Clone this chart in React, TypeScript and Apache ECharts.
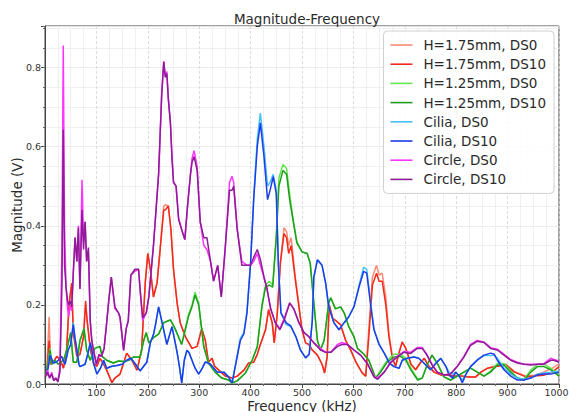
import React, { useEffect, useRef } from 'react';
import * as echarts from 'echarts';

type Pt = [number, number];

const chartTitle = 'Magnitude-Frequency';
const xName = 'Frequency (kHz)';
const yName = 'Magnitude (V)';
const seriesNames = [
  'H=1.75mm, DS0', 'H=1.75mm, DS10',
  'H=1.25mm, DS0', 'H=1.25mm, DS10',
  'Cilia, DS0', 'Cilia, DS10',
  'Circle, DS0', 'Circle, DS10',
];
const seriesColors = [
  '#fa8a74', '#f02a1c',
  '#62e650', '#1f9e1f',
  '#45c2f5', '#1f3de6',
  '#ff33ff', '#8e1c96',
];

const h175Ds10: Pt[] = [[3,0.02],[8,0.11],[11,0.05],[16,0.055],[23,0.07],[30,0.06],[36,0.04],[42,0.086],[47,0.205],[52,0.255],[55,0.13],[62,0.07],[68,0.075],[75,0.12],[79,0.21],[82,0.16],[88,0.09],[94,0.053],[101,0.045],[107,0.065],[114,0.05],[120,0.035],[130,0.003],[136,0.015],[146,0.025],[159,0.078],[169,0.06],[179,0.035],[188,0.086],[195,0.255],[200,0.33],[205,0.29],[211,0.22],[218,0.255],[224,0.34],[231,0.44],[234,0.44],[240,0.45],[245,0.39],[250,0.29],[257,0.205],[263,0.155],[273,0.12],[280,0.104],[286,0.09],[296,0.095],[305,0.14],[312,0.11],[318,0.055],[325,0.065],[330,0.045],[338,0.035],[351,0.02],[364,0.015],[374,0.02],[387,0.035],[396,0.053],[406,0.055],[413,0.075],[419,0.1],[429,0.137],[435,0.187],[442,0.155],[446,0.104],[452,0.18],[458,0.306],[465,0.38],[470,0.37],[474,0.33],[479,0.35],[487,0.263],[494,0.195],[500,0.137],[507,0.104],[513,0.1],[520,0.086],[530,0.073],[539,0.05],[544,0.028],[549,0.07],[553,0.2],[560,0.165],[566,0.16],[575,0.15],[585,0.11],[595,0.085],[605,0.055],[617,0.028],[624,0.02],[630,0.12],[637,0.25],[645,0.28],[650,0.26],[656,0.26],[663,0.2],[669,0.12],[676,0.065],[682,0.045],[689,0.08],[695,0.106],[702,0.09],[712,0.05],[721,0.036],[731,0.055],[738,0.065],[747,0.044],[757,0.03],[770,0.023],[783,0.022],[796,0.02],[810,0.02],[822,0.018],[838,0.018],[848,0.03],[861,0.04],[877,0.044],[897,0.048],[913,0.03],[936,0.018],[952,0.02],[970,0.022],[987,0.03],[1000,0.044]];
const h175Ds0: Pt[] = [[3,0.02],[8,0.17],[11,0.05],[16,0.055],[23,0.07],[30,0.06],[36,0.04],[42,0.086],[47,0.2],[52,0.25],[55,0.13],[62,0.07],[68,0.075],[75,0.12],[79,0.2],[82,0.16],[88,0.09],[94,0.053],[101,0.045],[107,0.065],[114,0.05],[120,0.035],[130,0.005],[136,0.015],[146,0.025],[159,0.078],[169,0.06],[179,0.035],[188,0.086],[195,0.255],[200,0.33],[205,0.29],[211,0.22],[218,0.255],[224,0.34],[231,0.45],[234,0.453],[240,0.45],[245,0.39],[250,0.29],[257,0.205],[263,0.155],[273,0.12],[280,0.104],[286,0.09],[296,0.095],[305,0.14],[312,0.11],[318,0.055],[325,0.065],[330,0.045],[338,0.035],[351,0.02],[364,0.015],[374,0.02],[387,0.035],[396,0.053],[406,0.055],[413,0.075],[419,0.1],[429,0.137],[435,0.19],[442,0.155],[446,0.104],[452,0.18],[458,0.31],[465,0.395],[470,0.385],[474,0.35],[479,0.37],[487,0.27],[494,0.2],[500,0.137],[507,0.104],[513,0.1],[520,0.086],[530,0.073],[539,0.05],[544,0.028],[549,0.07],[553,0.2],[560,0.165],[566,0.16],[575,0.15],[585,0.11],[595,0.085],[605,0.055],[617,0.028],[624,0.02],[630,0.14],[637,0.27],[645,0.3],[650,0.275],[656,0.28],[663,0.22],[669,0.13],[676,0.065],[682,0.045],[689,0.08],[695,0.106],[702,0.09],[712,0.05],[721,0.036],[731,0.055],[738,0.065],[747,0.044],[757,0.03],[770,0.023],[783,0.022],[796,0.02],[810,0.02],[822,0.018],[838,0.018],[848,0.03],[861,0.04],[877,0.046],[897,0.05],[913,0.032],[936,0.02],[952,0.022],[970,0.03],[987,0.04],[1000,0.05]];

const h125Ds10: Pt[] = [[3,0.03],[10,0.086],[13,0.05],[19,0.06],[26,0.05],[36,0.06],[42,0.085],[50,0.13],[55,0.055],[62,0.055],[68,0.11],[76,0.14],[81,0.086],[88,0.06],[97,0.09],[107,0.095],[111,0.07],[120,0.06],[133,0.053],[143,0.058],[153,0.057],[163,0.06],[172,0.068],[185,0.068],[192,0.11],[197,0.13],[202,0.104],[211,0.117],[221,0.126],[231,0.155],[240,0.16],[244,0.162],[253,0.14],[266,0.1],[279,0.17],[286,0.195],[292,0.225],[299,0.2],[309,0.094],[318,0.053],[331,0.03],[344,0.015],[357,0.01],[364,0.003],[374,0.008],[390,0.028],[403,0.06],[413,0.094],[422,0.195],[429,0.245],[436,0.25],[443,0.245],[450,0.37],[455,0.5],[463,0.54],[470,0.53],[476,0.466],[483,0.41],[490,0.357],[500,0.334],[510,0.33],[516,0.305],[523,0.205],[530,0.11],[536,0.086],[543,0.11],[552,0.205],[556,0.218],[565,0.19],[575,0.195],[582,0.18],[591,0.145],[601,0.12],[608,0.09],[620,0.076],[630,0.06],[636,0.04],[643,0.015],[653,0.03],[666,0.056],[679,0.068],[692,0.07],[702,0.06],[712,0.035],[725,0.01],[734,0.015],[744,0.05],[753,0.073],[763,0.053],[776,0.018],[789,0.01],[802,0.02],[815,0.03],[828,0.04],[841,0.03],[854,0.02],[867,0.03],[880,0.048],[893,0.048],[906,0.03],[919,0.015],[932,0.01],[945,0.03],[958,0.044],[971,0.044],[984,0.036],[1000,0.02]];
const h125Ds0: Pt[] = [[3,0.03],[10,0.09],[13,0.05],[19,0.06],[26,0.05],[36,0.06],[42,0.085],[50,0.13],[55,0.055],[62,0.055],[68,0.11],[76,0.14],[81,0.086],[88,0.06],[97,0.09],[107,0.095],[111,0.07],[120,0.06],[133,0.053],[143,0.058],[153,0.057],[163,0.06],[172,0.068],[185,0.068],[192,0.11],[197,0.13],[202,0.104],[211,0.117],[221,0.126],[231,0.155],[240,0.16],[244,0.162],[253,0.14],[266,0.1],[279,0.175],[286,0.2],[292,0.232],[299,0.205],[309,0.094],[318,0.053],[331,0.03],[344,0.015],[357,0.01],[364,0.003],[374,0.008],[390,0.028],[403,0.06],[413,0.094],[422,0.2],[429,0.25],[436,0.26],[443,0.25],[450,0.38],[455,0.52],[463,0.555],[470,0.545],[476,0.48],[483,0.415],[490,0.36],[500,0.334],[510,0.33],[516,0.305],[523,0.205],[530,0.11],[536,0.086],[543,0.11],[552,0.205],[556,0.218],[565,0.19],[575,0.195],[582,0.18],[591,0.145],[601,0.12],[608,0.09],[620,0.076],[630,0.06],[636,0.04],[643,0.015],[653,0.035],[666,0.06],[679,0.075],[692,0.076],[702,0.065],[712,0.04],[725,0.012],[734,0.015],[744,0.05],[753,0.073],[763,0.053],[776,0.018],[789,0.01],[802,0.02],[815,0.03],[828,0.04],[841,0.03],[854,0.02],[867,0.033],[880,0.052],[893,0.052],[906,0.033],[919,0.015],[932,0.012],[945,0.035],[958,0.05],[971,0.05],[984,0.04],[1000,0.022]];

const ciliaDs10: Pt[] = [[2,0.02],[6,0.04],[10,0.073],[16,0.053],[21,0.055],[26,0.06],[32,0.07],[39,0.05],[45,0.086],[50,0.1],[55,0.15],[58,0.12],[62,0.086],[66,0.05],[68,0.044],[78,0.05],[84,0.08],[88,0.104],[91,0.086],[95,0.05],[101,0.025],[108,0.04],[114,0.06],[120,0.04],[130,0.045],[140,0.047],[150,0.05],[159,0.06],[167,0.065],[176,0.05],[185,0.033],[192,0.045],[198,0.055],[205,0.104],[211,0.125],[215,0.15],[221,0.195],[227,0.16],[237,0.1],[247,0.145],[251,0.12],[257,0.08],[262,0.04],[266,0.003],[271,0.06],[276,0.085],[280,0.08],[286,0.06],[292,0.04],[299,0.025],[306,0.04],[312,0.056],[322,0.05],[335,0.03],[348,0.03],[357,0.018],[364,0.003],[370,0.043],[380,0.11],[387,0.127],[393,0.18],[400,0.306],[406,0.466],[413,0.6],[419,0.66],[426,0.575],[433,0.466],[438,0.49],[444,0.524],[450,0.48],[454,0.3],[459,0.18],[469,0.155],[478,0.147],[488,0.12],[497,0.086],[507,0.066],[514,0.075],[520,0.16],[523,0.27],[530,0.314],[539,0.3],[546,0.255],[552,0.195],[562,0.155],[572,0.137],[582,0.155],[591,0.17],[601,0.195],[611,0.245],[620,0.285],[626,0.28],[634,0.195],[640,0.137],[650,0.1],[660,0.078],[670,0.053],[679,0.044],[689,0.04],[695,0.06],[705,0.065],[718,0.068],[727,0.065],[737,0.053],[750,0.036],[763,0.056],[770,0.065],[780,0.044],[786,0.023],[793,0.015],[799,0.03],[806,0.02],[812,0.003],[819,0.025],[828,0.044],[841,0.06],[854,0.073],[867,0.078],[874,0.075],[880,0.06],[893,0.036],[906,0.02],[919,0.01],[932,0.01],[945,0.015],[958,0.023],[971,0.025],[984,0.025],[1000,0.03]];
const ciliaDs0: Pt[] = [[2,0.02],[6,0.04],[10,0.075],[16,0.053],[21,0.055],[26,0.06],[32,0.07],[39,0.05],[45,0.086],[50,0.1],[55,0.155],[58,0.12],[62,0.086],[66,0.05],[68,0.044],[78,0.05],[84,0.08],[88,0.104],[91,0.086],[95,0.05],[101,0.025],[108,0.04],[114,0.06],[120,0.04],[130,0.045],[140,0.047],[150,0.05],[159,0.06],[167,0.065],[176,0.05],[185,0.033],[192,0.045],[198,0.055],[205,0.104],[211,0.125],[215,0.15],[221,0.195],[227,0.16],[237,0.1],[247,0.145],[251,0.12],[257,0.08],[262,0.04],[266,0.003],[271,0.06],[276,0.085],[280,0.08],[286,0.06],[292,0.04],[299,0.025],[306,0.04],[312,0.056],[322,0.05],[335,0.03],[348,0.03],[357,0.018],[364,0.003],[370,0.045],[380,0.115],[387,0.13],[393,0.185],[400,0.31],[406,0.47],[413,0.62],[419,0.685],[426,0.6],[433,0.5],[438,0.51],[444,0.53],[450,0.49],[454,0.31],[459,0.18],[469,0.15],[478,0.145],[488,0.12],[497,0.086],[507,0.066],[514,0.075],[520,0.16],[523,0.27],[530,0.314],[539,0.3],[546,0.255],[552,0.195],[562,0.155],[572,0.137],[582,0.155],[591,0.17],[601,0.195],[611,0.25],[620,0.295],[626,0.29],[634,0.2],[640,0.14],[650,0.1],[660,0.078],[670,0.053],[679,0.044],[689,0.04],[695,0.06],[705,0.065],[718,0.068],[727,0.065],[737,0.053],[750,0.036],[763,0.056],[770,0.065],[780,0.045],[786,0.03],[793,0.025],[799,0.03],[806,0.02],[812,0.01],[819,0.025],[828,0.044],[841,0.062],[854,0.072],[867,0.072],[874,0.073],[880,0.065],[893,0.04],[906,0.025],[919,0.015],[932,0.012],[945,0.015],[958,0.025],[971,0.028],[984,0.03],[1000,0.033]];

const circleDs10: Pt[] = [[2,0.02],[5,0.03],[9,0.015],[13,0.025],[17,0.008],[21,0.015],[25,0.005],[29,0.03],[33,0.25],[35.5,0.643],[38,0.3],[41,0.245],[44,0.21],[46,0.2],[49,0.21],[52,0.195],[55,0.28],[58.5,0.37],[62,0.31],[65,0.395],[68,0.24],[72,0.44],[75,0.34],[78,0.41],[81,0.31],[84.5,0.345],[88,0.16],[91,0.11],[94,0.086],[100,0.05],[105,0.075],[110,0.07],[115,0.09],[120,0.155],[124,0.21],[129,0.27],[136,0.195],[143,0.18],[146,0.17],[153,0.085],[158,0.14],[162,0.16],[167,0.275],[175,0.29],[182,0.29],[185,0.24],[190,0.167],[197,0.18],[202,0.22],[211,0.35],[221,0.53],[227,0.73],[231,0.815],[234,0.775],[237,0.785],[240,0.72],[244,0.66],[247,0.57],[250,0.51],[255,0.5],[260,0.415],[266,0.39],[272,0.365],[278,0.46],[283,0.53],[286,0.56],[290,0.575],[296,0.54],[302,0.41],[309,0.37],[315,0.37],[322,0.31],[328,0.26],[336,0.3],[343,0.22],[351,0.35],[359,0.49],[364,0.49],[367,0.5],[374,0.39],[383,0.3],[393,0.3],[400,0.3],[406,0.32],[413,0.34],[419,0.315],[426,0.27],[432,0.24],[439,0.19],[448,0.155],[457,0.137],[465,0.16],[476,0.205],[484,0.19],[494,0.155],[504,0.13],[513,0.12],[523,0.104],[536,0.086],[546,0.08],[556,0.08],[569,0.095],[578,0.1],[588,0.1],[601,0.086],[614,0.073],[627,0.052],[640,0.018],[647,0.012],[660,0.03],[672,0.053],[685,0.068],[698,0.08],[711,0.077],[724,0.09],[734,0.09],[743,0.073],[753,0.048],[763,0.03],[776,0.023],[789,0.025],[802,0.044],[815,0.068],[828,0.098],[841,0.108],[854,0.105],[867,0.09],[880,0.086],[893,0.073],[906,0.06],[919,0.053],[932,0.05],[945,0.048],[958,0.05],[971,0.05],[984,0.06],[990,0.06],[1000,0.055]];
const circleDs0: Pt[] = [[2,0.02],[5,0.035],[9,0.015],[13,0.03],[17,0.01],[21,0.015],[25,0.008],[29,0.04],[33,0.35],[35.5,0.856],[38,0.4],[41,0.24],[44,0.19],[46,0.17],[49,0.2],[52,0.185],[55,0.28],[58.5,0.37],[62,0.31],[65,0.4],[68,0.24],[72,0.516],[75,0.36],[78,0.41],[81,0.31],[84.5,0.33],[88,0.16],[91,0.11],[94,0.09],[100,0.05],[105,0.07],[110,0.07],[115,0.09],[120,0.155],[124,0.21],[129,0.27],[136,0.19],[143,0.18],[146,0.165],[153,0.085],[158,0.14],[162,0.16],[167,0.275],[175,0.285],[182,0.29],[185,0.24],[190,0.16],[197,0.18],[202,0.22],[211,0.35],[221,0.53],[227,0.73],[231,0.815],[234,0.78],[237,0.79],[240,0.72],[244,0.66],[247,0.58],[250,0.51],[255,0.5],[260,0.42],[266,0.39],[272,0.365],[278,0.46],[283,0.53],[286,0.57],[290,0.59],[296,0.55],[302,0.41],[309,0.35],[315,0.34],[322,0.31],[328,0.26],[336,0.3],[343,0.22],[351,0.35],[359,0.51],[364,0.525],[367,0.51],[374,0.39],[383,0.31],[393,0.3],[400,0.3],[406,0.31],[413,0.33],[419,0.3],[426,0.27],[432,0.24],[439,0.19],[448,0.155],[457,0.14],[465,0.165],[476,0.205],[484,0.19],[494,0.155],[504,0.13],[513,0.12],[523,0.104],[536,0.09],[546,0.08],[556,0.08],[569,0.1],[578,0.105],[588,0.1],[601,0.086],[614,0.073],[627,0.052],[640,0.02],[647,0.015],[660,0.03],[672,0.055],[685,0.07],[698,0.082],[711,0.08],[724,0.092],[734,0.092],[743,0.075],[753,0.05],[763,0.03],[776,0.023],[789,0.025],[802,0.045],[815,0.07],[828,0.1],[841,0.11],[854,0.106],[867,0.092],[880,0.088],[893,0.075],[906,0.062],[919,0.055],[932,0.05],[945,0.05],[958,0.05],[971,0.052],[984,0.065],[990,0.062],[1000,0.058]];

const seriesData: Pt[][] = [h175Ds0, h175Ds10, h125Ds0, h125Ds10, ciliaDs0, ciliaDs10, circleDs0, circleDs10];

const FONT = 'DejaVu Sans';

export default function App() {
  const ref = useRef<HTMLDivElement>(null);
  useEffect(() => {
    document.body.style.margin = '0';
    const chart = echarts.init(ref.current!, null, { renderer: 'svg' });
    const series = seriesNames.map((name, i) => ({
      name,
      type: 'line',
      data: seriesData[i],
      symbol: 'none',
      showSymbol: false,
      smooth: false,
      clip: true,
      lineStyle: { width: 1.5, color: seriesColors[i] },
      itemStyle: { color: seriesColors[i] },
      emphasis: { disabled: true },
    }));
    chart.setOption({
      animation: false,
      textStyle: { fontFamily: FONT },
      title: {
        text: chartTitle,
        left: 302,
        top: 7,
        textAlign: 'center',
        textStyle: { fontSize: 13.5, fontWeight: 'normal', color: '#2a2a2a', fontFamily: FONT },
      },
      grid: {
        left: 45, right: 10, top: 26, bottom: 28,
        outerBoundsMode: 'none',
        containLabel: false,
        show: true, borderColor: '#444', borderWidth: 1, backgroundColor: 'transparent',
      },
      legend: {
        data: seriesNames,
        orient: 'vertical',
        right: 15,
        top: 31,
        icon: 'rect',
        itemWidth: 22,
        itemHeight: 1.6,
        itemGap: 5.2,
        padding: [7, 8, 7, 7],
        backgroundColor: 'rgba(255,255,255,0.85)',
        borderColor: '#d0d0d0',
        borderWidth: 1,
        borderRadius: 4,
        textStyle: { fontSize: 13.5, lineHeight: 14, color: '#2a2a2a', fontFamily: FONT, padding: [0, 0, 0, 6] },
      },
      xAxis: {
        type: 'value',
        min: 0,
        max: 1000,
        interval: 100,
        name: xName,
        nameLocation: 'middle',
        nameGap: 14.5,
        nameMoveOverlap: false,
        nameTextStyle: { fontSize: 13.5, color: '#2a2a2a', fontFamily: FONT },
        axisLine: { show: true, lineStyle: { color: '#444' } },
        axisTick: { show: true, length: 4, lineStyle: { color: '#444' } },
        minorTick: { show: true, splitNumber: 4, length: 2, lineStyle: { color: '#666' } },
        axisLabel: {
          fontSize: 9.5, color: '#333', margin: 3.5, fontFamily: FONT,
          formatter: (v: number) => (v === 0 ? '' : v === 1000 ? '{m|1000}' : String(v)),
          rich: { m: { fontSize: 9.5, color: '#333', fontFamily: FONT, padding: [0, 5, 0, 0] } },
        },
        splitLine: { show: true, lineStyle: { color: '#d4d4d4', type: [3, 2], width: 0.8 } },
        minorSplitLine: { show: true, lineStyle: { color: '#ececec', width: 0.8 } },
      },
      yAxis: [
        {
          type: 'value',
          min: 0,
          max: 0.905,
          interval: 0.2,
          name: yName,
          nameLocation: 'middle',
          nameGap: 21,
          nameMoveOverlap: false,
          nameTextStyle: { fontSize: 13.5, color: '#2a2a2a', fontFamily: FONT },
          axisLine: { show: true, lineStyle: { color: '#444' } },
          axisTick: { show: true, length: 4, lineStyle: { color: '#444' } },
          axisLabel: {
            fontSize: 9.5, color: '#333', margin: 4, fontFamily: FONT,
            formatter: (v: number) => (Math.abs(v / 0.2 - Math.round(v / 0.2)) < 1e-6 ? v.toFixed(1) : ''),
          },
          splitLine: { show: true, lineStyle: { color: '#d4d4d4', type: [3, 2], width: 0.8 } },
        },
        {
          type: 'value',
          position: 'left',
          min: 0,
          max: 0.905,
          interval: 0.05,
          axisLine: { show: false },
          axisTick: { show: true, length: 2, lineStyle: { color: '#666' } },
          axisLabel: { show: false },
          splitLine: { show: true, lineStyle: { color: '#ececec', width: 0.8 } },
          z: 0,
        },
      ],
      series,
    });
    return () => chart.dispose();
  }, []);
  return <div ref={ref} style={{ width: 569, height: 412 }} />;
}
